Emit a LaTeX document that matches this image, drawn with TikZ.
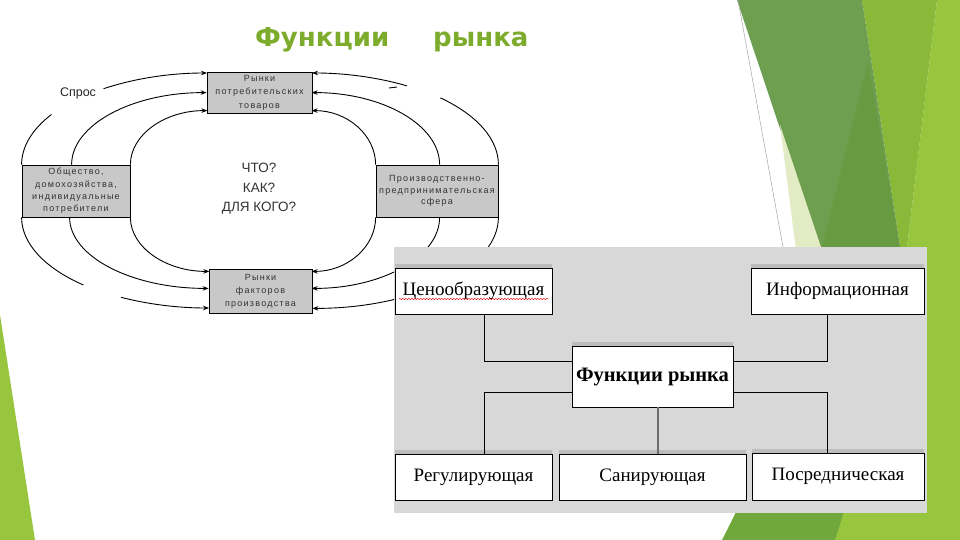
\documentclass[tikz,border=0pt]{standalone}
\usepackage{fontspec}
\setmainfont{Liberation Serif}
\newfontfamily\lsans{Liberation Sans}
\newfontfamily\lsansls[LetterSpace=14]{Liberation Sans}
\newfontfamily\ttlfont{DejaVu Sans}
\usetikzlibrary{arrows.meta,calc,decorations.pathmorphing}
\definecolor{gMed}{RGB}{110,158,80}
\definecolor{gDark}{RGB}{104,154,66}
\definecolor{gYel}{RGB}{138,185,58}
\definecolor{gBri}{RGB}{152,197,62}
\definecolor{gPale}{RGB}{226,235,195}
\definecolor{gBot}{RGB}{112,168,60}
\definecolor{ttlc}{RGB}{125,172,45}
\definecolor{panelc}{RGB}{216,216,216}
\definecolor{shadc}{RGB}{188,188,188}
\definecolor{boxg}{RGB}{200,200,200}
\tikzset{
  lbox/.style={draw=black, fill=boxg, line width=0.8pt, align=center, inner sep=0pt,
    font=\lsansls\fontsize{9}{13.5}\selectfont, text=black!80},
  arcarr/.style={-{Stealth[length=6pt,width=4.5pt]}, line width=0.9pt},
  arcln/.style={line width=0.9pt},
  rbox/.style={draw=black, fill=white, line width=0.8pt, inner sep=0pt,
    font=\fontsize{19}{21}\selectfont,
    preaction={fill=shadc, transform canvas={yshift=4pt}}},
  rline/.style={draw=black, line width=0.8pt},
  ttl/.style={anchor=base west, inner sep=0pt, text=ttlc, font=\ttlfont\bfseries\fontsize{26}{30}\selectfont}
}
\begin{document}
\begin{tikzpicture}[x=1pt,y=-1pt]
\useasboundingbox (0,0) rectangle (960,540);
\fill[white] (0,0) rectangle (960,540);

% decoration right
\fill[gBri] (937,0) -- (960,0) -- (960,540) -- (835,540) -- (904,272) -- cycle;
\fill[gYel] (862,0) -- (937,0) -- (904,272) -- cycle;
\fill[gMed] (737,0) -- (862,0) -- (904,272) -- (829,275) -- cycle;
\fill[gDark] (868,62) -- (904,272) -- (816,272) -- cycle;
\fill[gPale] (780,125) -- (822,250) -- (796,250) -- cycle;
\draw[gray!70, line width=0.5pt] (738,0) -- (783,247);
\fill[gBot] (722,540) -- (738,508) -- (845,508) -- (835,540) -- cycle;
% decoration left
\fill[gBri] (0,315) -- (35,540) -- (0,540) -- cycle;

% title
\node[ttl] (t1) at (255,47) {Функции};
\node[ttl] (t2) at (433,47) {рынка};

% left diagram
\node[lbox, minimum width=105pt, minimum height=41pt] (top) at (259.5,92.5) {Рынки\\потребительских\\товаров};
\node[lbox, minimum width=108pt, minimum height=52pt, font=\lsansls\fontsize{9}{12.3}\selectfont] (soc) at (76,191) {Общество,\\домохозяйства,\\индивидуальные\\потребители};
\node[lbox, minimum width=122pt, minimum height=52pt, font=\lsansls\fontsize{9}{11.7}\selectfont] (prod) at (437,191) {Производственно-\\предпринимательская\\сфера};
\node[lbox, minimum width=103pt, minimum height=44pt, font=\lsansls\fontsize{9}{13}\selectfont] (bot) at (260.5,291) {Рынки\\факторов\\производства};
\node[align=center, inner sep=0pt, text=black!80, font=\lsans\fontsize{13.5}{19.5}\selectfont] (q) at (259,189) {ЧТО?\\КАК?\\ДЛЯ КОГО?};
\node[inner sep=0pt, text=black!85, font=\lsans\fontsize{12.5}{14}\selectfont] (spros) at (78,93) {Спрос};

% top-left arcs
\draw[arcarr] (soc.north east) arc[start angle=180,end angle=270,x radius=77,y radius=54];
\draw[arcarr] ([xshift=50pt]soc.north west) arc[start angle=180,end angle=270,x radius=135,y radius=72];
\draw[arcarr] (soc.north west) arc[start angle=180,end angle=213,x radius=185,y radius=92]
  ($(207,165)+(236:185 and 92)$) arc[start angle=236,end angle=270,x radius=185,y radius=92];
% top-right arcs
\draw[arcarr] (prod.north west) arc[start angle=0,end angle=-90,x radius=64,y radius=54];
\draw[arcarr] ([xshift=64pt]prod.north west) arc[start angle=0,end angle=-90,x radius=128,y radius=72];
\draw[arcarr] (prod.north east) arc[start angle=0,end angle=-46.5,x radius=186,y radius=92]
  ($(312,165)+(-59.3:186 and 92)$) arc[start angle=-59.3,end angle=-90,x radius=186,y radius=92];
\draw[arcln] (389,88) -- (397,87);
% bottom-left arcs
\draw[arcarr] (soc.south east) arc[start angle=180,end angle=90,x radius=79,y radius=54];
\draw[arcarr] ([xshift=48pt]soc.south west) arc[start angle=180,end angle=90,x radius=139,y radius=71];
\draw[arcarr] (soc.south west) arc[start angle=180,end angle=132,x radius=187,y radius=91]
  ($(209,217)+(118:187 and 91)$) arc[start angle=118,end angle=90,x radius=187,y radius=91];
% bottom-right arcs
\draw[arcarr] (prod.south west) arc[start angle=0,end angle=90,x radius=64,y radius=54];
\draw[arcarr] ([xshift=64pt]prod.south west) arc[start angle=0,end angle=90,x radius=128,y radius=71];
\draw[arcarr] (prod.south east) arc[start angle=0,end angle=90,x radius=186,y radius=91];

% right diagram
\fill[panelc] (394,247) rectangle (927,513);
\node[rbox, minimum width=157pt, minimum height=46pt] (cen) at (473.5,291) {Ценообразующая};
\node[rbox, minimum width=173pt, minimum height=46pt] (inf) at (837.5,291) {Информационная};
\node[rbox, minimum width=161pt, minimum height=61pt, font=\bfseries\fontsize{20.5}{22}\selectfont] (fun) at (652.5,376.5) {Функции рынка};
\node[rbox, minimum width=157pt, minimum height=46pt] (reg) at (473.5,477) {Регулирующая};
\node[rbox, minimum width=187pt, minimum height=46pt] (san) at (652.5,477) {Санирующая};
\node[rbox, minimum width=172pt, minimum height=47pt] (pos) at (838,476.5) {Посредническая};
\draw[red!85!black, line width=0.4pt, decorate, decoration={snake, amplitude=0.7pt, segment length=3pt}] (399,299) -- (549,299);

\draw[rline] ([xshift=10.5pt]cen.south) |- ([yshift=15.5pt]fun.west);
\draw[rline] ([yshift=-15.5pt]fun.west) -| ([xshift=10.5pt]reg.north);
\draw[rline] ([yshift=15.5pt]fun.east) -| ([xshift=-10.5pt]inf.south);
\draw[rline] ([yshift=-15.5pt]fun.east) -| ([xshift=-11pt]pos.north);
\draw[draw=gray!85!black, line width=1.4pt] ([xshift=5.5pt]fun.south) -- ([xshift=5.5pt]san.north);
\end{tikzpicture}
\end{document}
